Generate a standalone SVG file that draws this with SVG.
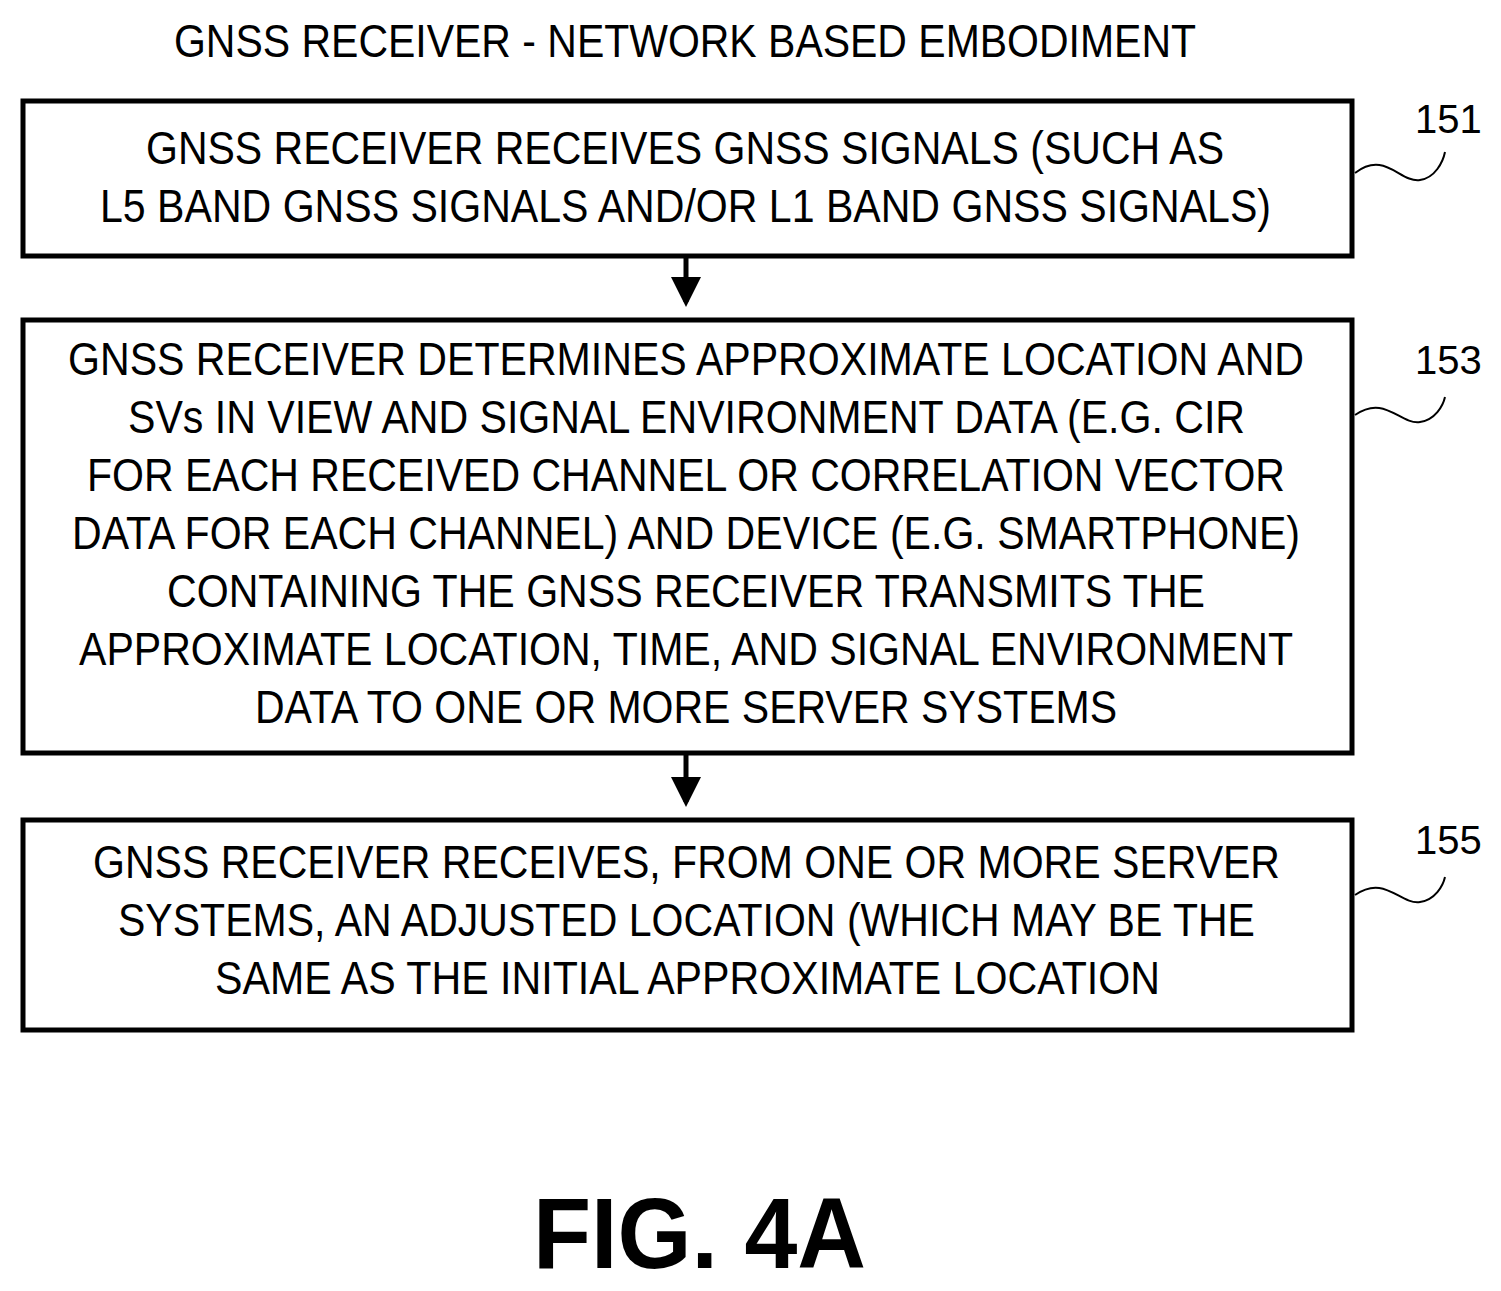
<svg xmlns="http://www.w3.org/2000/svg" width="1501" height="1291" viewBox="0 0 1501 1291">
<style>
text{font-family:"Liberation Sans",Arial,sans-serif;font-size:46px;fill:#000}
.box{fill:#fff;stroke:#000;stroke-width:5}
.sq{fill:none;stroke:#000;stroke-width:2}
.lbl{font-size:40px}
.c{stroke:#000;stroke-width:5;fill:none}
</style>
<defs><marker id="a" markerWidth="6" markerHeight="6" refX="5" refY="3" orient="auto" markerUnits="strokeWidth"><path d="M0,0L6,3L0,6Z" fill="#000"/></marker></defs>
<rect width="1501" height="1291" fill="#fff"/>
<text x="174" y="57" textLength="1022" lengthAdjust="spacingAndGlyphs">GNSS RECEIVER - NETWORK BASED EMBODIMENT</text>
<g id="n151">
<rect class="box" x="23" y="101" width="1329" height="155"/>
<text x="146" y="164" textLength="1078" lengthAdjust="spacingAndGlyphs">GNSS RECEIVER RECEIVES GNSS SIGNALS (SUCH AS</text>
<text x="100" y="222" textLength="1171" lengthAdjust="spacingAndGlyphs">L5 BAND GNSS SIGNALS AND/OR L1 BAND GNSS SIGNALS)</text>
<path class="sq" d="M1355,173 C1385,150 1400,183 1420,180 C1435,178 1443,162 1445,152"/>
<text class="lbl" x="1415" y="133">151</text>
</g>
<g id="n153">
<rect class="box" x="23" y="320" width="1329" height="433"/>
<text x="68" y="375" textLength="1236" lengthAdjust="spacingAndGlyphs">GNSS RECEIVER DETERMINES APPROXIMATE LOCATION AND</text>
<text x="128" y="433" textLength="1117" lengthAdjust="spacingAndGlyphs">SVs IN VIEW AND SIGNAL ENVIRONMENT DATA (E.G. CIR</text>
<text x="87" y="491" textLength="1198" lengthAdjust="spacingAndGlyphs">FOR EACH RECEIVED CHANNEL OR CORRELATION VECTOR</text>
<text x="72" y="549" textLength="1228" lengthAdjust="spacingAndGlyphs">DATA FOR EACH CHANNEL) AND DEVICE (E.G. SMARTPHONE)</text>
<text x="167" y="607" textLength="1038" lengthAdjust="spacingAndGlyphs">CONTAINING THE GNSS RECEIVER TRANSMITS THE</text>
<text x="79" y="665" textLength="1214" lengthAdjust="spacingAndGlyphs">APPROXIMATE LOCATION, TIME, AND SIGNAL ENVIRONMENT</text>
<text x="255" y="723" textLength="862" lengthAdjust="spacingAndGlyphs">DATA TO ONE OR MORE SERVER SYSTEMS</text>
<path class="sq" d="M1355,415 C1385,394 1400,425 1420,422 C1435,420 1443,406 1445,397"/>
<text class="lbl" x="1415" y="374">153</text>
</g>
<g id="n155">
<rect class="box" x="23" y="820" width="1329" height="210"/>
<text x="93" y="878" textLength="1187" lengthAdjust="spacingAndGlyphs">GNSS RECEIVER RECEIVES, FROM ONE OR MORE SERVER</text>
<text x="118" y="936" textLength="1137" lengthAdjust="spacingAndGlyphs">SYSTEMS, AN ADJUSTED LOCATION (WHICH MAY BE THE</text>
<text x="215" y="994" textLength="945" lengthAdjust="spacingAndGlyphs">SAME AS THE INITIAL APPROXIMATE LOCATION</text>
<path class="sq" d="M1355,895 C1385,874 1400,905 1420,902 C1435,900 1443,886 1445,877"/>
<text class="lbl" x="1415" y="854">155</text>
</g>
<g id="connectors">
<line class="c" x1="686" y1="258" x2="686" y2="302" marker-end="url(#a)"/>
<line class="c" x1="686" y1="755" x2="686" y2="802" marker-end="url(#a)"/>
</g>
<text x="533" y="1268" textLength="333" lengthAdjust="spacingAndGlyphs" style="font-size:100px;font-weight:bold">FIG. 4A</text>
</svg>
